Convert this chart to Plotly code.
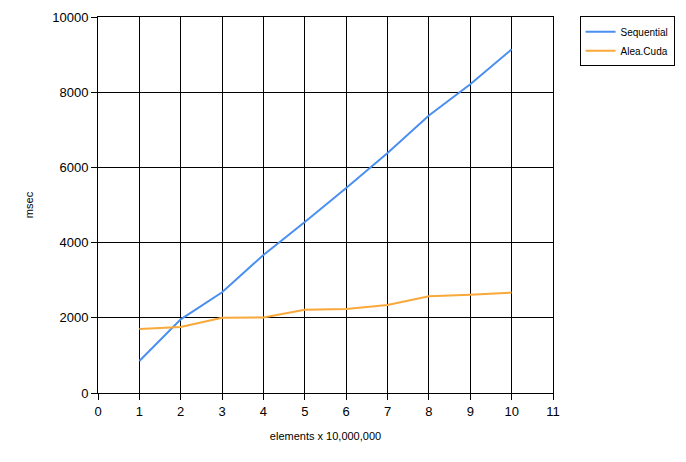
import plotly.graph_objects as go

x_values = [1, 2, 3, 4, 5, 6, 7, 8, 9, 10]
sequential = [850, 1960, 2680, 3670, 4550, 5450, 6380, 7380, 8210, 9140]
alea_cuda = [1700, 1755, 2000, 2010, 2215, 2235, 2340, 2570, 2615, 2670]

FONT = "Liberation Sans, DejaVu Sans, sans-serif"

fig = go.Figure()
fig.add_trace(go.Scatter(x=x_values, y=sequential, mode="lines", name="Sequential",
                         line=dict(color="#4a8ff0", width=2)))
fig.add_trace(go.Scatter(x=x_values, y=alea_cuda, mode="lines", name="Alea.Cuda",
                         line=dict(color="#f9a83a", width=2)))

axis_common = dict(
    showgrid=True, gridcolor="black", gridwidth=1,
    showline=True, linecolor="black", linewidth=1, mirror=True,
    ticks="outside", ticklen=6, tickcolor="black",
    zeroline=False, tickfont=dict(size=13, color="black", family=FONT),
)

# the page body adds an 8px offset, so the figure is sized to fit the window
fig.update_layout(
    width=678, height=454,
    paper_bgcolor="white", plot_bgcolor="white",
    margin=dict(l=90, r=133, t=9, b=69),
    font=dict(family=FONT, color="black"),
    xaxis=dict(range=[0, 11], dtick=1, automargin=False,
               title=dict(text="elements x 10,000,000", font=dict(size=11), standoff=14),
               **axis_common),
    yaxis=dict(range=[0, 10000], dtick=2000, tickformat="d", automargin="left",
               title=dict(text="msec", font=dict(size=11), standoff=16),
               **axis_common),
    legend=dict(xref="container", yref="container", x=0.843, y=0.982,
                xanchor="left", yanchor="top",
                bordercolor="black", borderwidth=1, bgcolor="white",
                font=dict(size=10), tracegroupgap=0),
    showlegend=True,
)

fig.write_html("out.html")
